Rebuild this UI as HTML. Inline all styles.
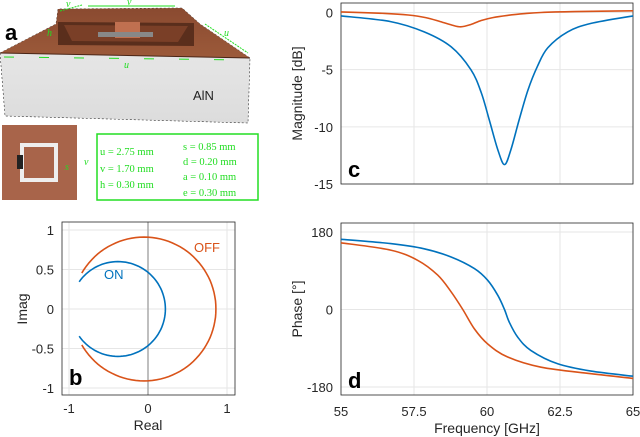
<!DOCTYPE html>
<html><head><meta charset="utf-8"><style>
body{margin:0;background:#fff;width:640px;height:437px;overflow:hidden}
svg{display:block;font-family:"Liberation Sans",sans-serif}
</style></head><body>
<svg id="fig" width="640" height="437" viewBox="0 0 640 437">
 <defs>
  <linearGradient id="brown" x1="0" y1="0" x2="0" y2="1"><stop offset="0" stop-color="#8a4a30"/><stop offset="1" stop-color="#9c5a3a"/></linearGradient>
  <linearGradient id="white" x1="0" y1="0" x2="0" y2="1"><stop offset="0" stop-color="#ececec"/><stop offset="1" stop-color="#dcdcdc"/></linearGradient>
 </defs>
 <g>
  <polygon points="0,53 56,24 58,9 182,8 200,24 250,58 248,123 5,116" fill="url(#white)" stroke="#333" stroke-width="0.6" stroke-dasharray="2,2"/>
  <polygon points="0,53 56,24 58,9 182,8 200,24 250,58" fill="url(#brown)"/>
  <polygon points="58,22 194,23 194,46 58,45" fill="#5a2e1c"/>
  <polygon points="64,25 188,26 178,42 72,41" fill="#7a3f27"/>
  <rect x="115" y="22" width="25" height="16" fill="#c07050"/>
  <rect x="98" y="32" width="55" height="5" fill="#888"/>
  <line x1="0" y1="53" x2="250" y2="58" stroke="#4a2515" stroke-width="1"/>
  <text x="193" y="100" font-size="13" fill="#222">AlN</text>
  <text x="5" y="40" font-size="22" font-weight="bold" fill="#000">a</text>
  <g fill="#22dd22" font-family="Liberation Serif" font-style="italic" font-size="10">
   <line x1="60" y1="11" x2="82" y2="5" stroke="#22dd22" stroke-dasharray="2,1"/><text x="66" y="7">v</text>
   <line x1="88" y1="6" x2="175" y2="6" stroke="#22dd22"/><text x="127" y="5">v</text>
   <line x1="205" y1="24" x2="248" y2="53" stroke="#22dd22" stroke-dasharray="2,1"/><text x="224" y="36">u</text>
   <text x="47" y="36">h</text>
   <line x1="4" y1="57" x2="245" y2="60" stroke="#22dd22" stroke-dasharray="10,25"/><text x="124" y="68">u</text>
  </g>
  <rect x="2" y="125" width="75" height="75" fill="#a8644a"/>
  <rect x="22" y="145" width="34" height="35" fill="none" stroke="#eee" stroke-width="4"/>
  <rect x="17" y="155" width="6" height="14" fill="#222"/>
  <g fill="#22dd22" font-family="Liberation Serif" font-style="italic" font-size="10">
   <text x="84" y="165">v</text><text x="65" y="170">s</text>
  </g>
  <rect x="97" y="134" width="161" height="66" fill="#fff" stroke="#22dd22" stroke-width="1.5"/>
  <g fill="#22dd22" font-family="Liberation Serif" font-size="10.5">
   <text x="100" y="155">u = 2.75 mm</text><text x="100" y="172">v = 1.70 mm</text><text x="100" y="188">h = 0.30 mm</text>
   <text x="183" y="150">s = 0.85 mm</text><text x="183" y="165">d = 0.20 mm</text><text x="183" y="180">a = 0.10 mm</text><text x="183" y="196">e = 0.30 mm</text>
  </g>
 </g>
 <g id="pb"></g><g id="pc"></g><g id="pd"></g>
</svg>
<script>
const polarSeries = ['ON','OFF'];
const polarCenterRe = [-0.38, -0.05];
const polarCenterIm = [0, 0];
const polarRadius = [0.6, 0.91];
const polarStartDeg = [145, 150];
const polarEndDeg = [-145, -150];
const polarTicks = [-1, -0.5, 0, 0.5, 1];
const polarTickLabels = ['-1','-0.5','0','0.5','1'];
const realTicks = [-1, 0, 1];
const freqMagOn = [55,56.7,57.85,58.77,59.45,59.8,60.08,60.37,60.6,60.82,61.1,61.4,61.73,62.08,62.76,63.56,65];
const magOn = [-0.3,-0.8,-1.7,-3.0,-5.0,-7.0,-9.4,-12,-13.3,-12,-9.4,-6.8,-4.7,-3.1,-1.7,-0.95,-0.3];
const freqMagOff = [55,56.5,57.3,57.9,58.4,58.8,59.1,59.45,59.8,60.2,60.7,61.3,61.85,63,65];
const magOff = [0.05,-0.08,-0.22,-0.45,-0.8,-1.1,-1.25,-1.05,-0.7,-0.45,-0.25,-0.1,0,0.08,0.15];
const freqPhOn = [55,56.7,57.85,58.77,59.57,60.02,60.37,60.6,60.76,61.05,61.5,62.42,63.56,65];
const phaseOn = [163,153,141,122,95,68,33,0,-29,-64,-95,-126,-143,-155];
const freqPhOff = [55,56.7,57.63,58.31,58.77,59.17,59.57,60.02,60.7,61.85,63.56,65];
const phaseOff = [155,138,114,80,41,0,-45,-80,-110,-134,-149,-160];
const freqTicks = [55,57.5,60,62.5,65];
const freqTickLabels = ['55','57.5','60','62.5','65'];
const magTicks = [0,-5,-10,-15];
const phaseTicks = [180,0,-180];
const colors = {ON:'#0072BD', OFF:'#D95319'};
const NS='http://www.w3.org/2000/svg';
function mk(parent,tag,attrs,txt){const e=document.createElementNS(NS,tag);for(const k in attrs)e.setAttribute(k,attrs[k]);if(txt!==undefined)e.textContent=txt;parent.appendChild(e);return e;}
function lin(d0,d1,r0,r1){return v=>r0+(v-d0)*(r1-r0)/(d1-d0);}
function smooth(pts){let d='M'+pts[0][0]+','+pts[0][1];for(let i=0;i<pts.length-1;i++){const p0=pts[Math.max(i-1,0)],p1=pts[i],p2=pts[i+1],p3=pts[Math.min(i+2,pts.length-1)];const c1=[p1[0]+(p2[0]-p0[0])/6,p1[1]+(p2[1]-p0[1])/6],c2=[p2[0]-(p3[0]-p1[0])/6,p2[1]-(p3[1]-p1[1])/6];d+=' C'+c1[0]+','+c1[1]+' '+c2[0]+','+c2[1]+' '+p2[0]+','+p2[1];}return d;}
function axesBox(g,x0,y0,x1,y1){
 const r=mk(g,'rect',{x:x0,y:y0,width:x1-x0,height:y1-y0,fill:'none',stroke:'#262626','stroke-width':0.8});
 
 
}
(function(){
 const g=document.getElementById('pb');
 
 const X=lin(-1,1,69,227),Y=lin(-1,1,388,230);
 polarTicks.forEach((t,i)=>{
  mk(g,'line',{x1:62,x2:235,y1:Y(t),y2:Y(t),stroke:'#e6e6e6'});
  const l=mk(g,'text',{x:54,y:Y(t)+5,'font-size':13,'text-anchor':'end',fill:'#262626'},polarTickLabels[i]);
  
  
 });
 realTicks.forEach(t=>{
  mk(g,'line',{x1:X(t),x2:X(t),y1:222,y2:395,stroke:'#e6e6e6'});
  const l=mk(g,'text',{x:X(t),y:413,'font-size':13,'text-anchor':'middle',fill:'#262626'},String(t));
  
  
 });
 mk(g,'line',{x1:X(0),x2:X(0),y1:222,y2:395,stroke:'#aaa','stroke-width':1.5});
 axesBox(g,62,222,235,395);
 polarSeries.forEach((s,i)=>{
  const pts=[];const a0=polarStartDeg[i],a1=polarEndDeg[i];
  for(let k=0;k<=90;k++){const a=(a0+(a1-a0)*k/90)*Math.PI/180;pts.push([X(polarCenterRe[i]+polarRadius[i]*Math.cos(a)).toFixed(1),Y(polarCenterIm[i]+polarRadius[i]*Math.sin(a)).toFixed(1)]);}
  const p=mk(g,'polyline',{points:pts.map(q=>q.join(',')).join(' '),fill:'none',stroke:colors[s],'stroke-width':1.6});
  
  
 });
 const on=mk(g,'text',{x:104,y:279,'font-size':13,fill:colors.ON},'ON');
 
 const off=mk(g,'text',{x:194,y:252,'font-size':13,fill:colors.OFF},'OFF');
 
 const xl=mk(g,'text',{x:148,y:430,'font-size':14,'text-anchor':'middle',fill:'#262626'},'Real');
 
 const yl=mk(g,'text',{x:0,y:0,'font-size':14,'text-anchor':'middle',fill:'#262626',transform:'translate(27,309) rotate(-90)'},'Imag');
 
 const b=mk(g,'text',{x:69,y:385,'font-size':22,'font-weight':'bold'},'b');
 
})();
function linePanel(id,name,y0,y1,dTop,dBot,ticks,tickLabels,series,ytitle,letter,showX){
 const g=document.getElementById(id);
 
 const X=lin(55,65,341,633),Y=lin(ticks[0],ticks[ticks.length-1],dTop,dBot);
 ticks.forEach((t,i)=>{
  mk(g,'line',{x1:341,x2:633,y1:Y(t),y2:Y(t),stroke:'#e6e6e6'});
  const l=mk(g,'text',{x:333,y:Y(t)+5,'font-size':13,'text-anchor':'end',fill:'#262626'},tickLabels[i]);
  
  
 });
 freqTicks.forEach((t,i)=>{
  mk(g,'line',{x1:X(t),x2:X(t),y1:y0,y2:y1,stroke:'#e6e6e6'});
  if(showX){
   const l=mk(g,'text',{x:X(t),y:416,'font-size':13,'text-anchor':'middle',fill:'#262626'},freqTickLabels[i]);
   
   
  }
 });
 axesBox(g,341,y0,633,y1);
 series.forEach(s=>{
  const pts=s.v.map((v,i)=>[+X(s.x[i]).toFixed(1),+Y(v).toFixed(1)]);
  const p=mk(g,'path',{d:smooth(pts),fill:'none',stroke:colors[s.n],'stroke-width':1.6});
  
  
 });
 const yl=mk(g,'text',{x:0,y:0,'font-size':14,'text-anchor':'middle',fill:'#262626',transform:'translate(302,'+((y0+y1)/2)+') rotate(-90)'},ytitle);
 
 const L=mk(g,'text',{x:348,y:y1-7,'font-size':22,'font-weight':'bold'},letter);
 
}
linePanel('pc','magnitude-chart',3,184,12.5,184,magTicks,['0','-5','-10','-15'],[{n:'OFF',x:freqMagOff,v:magOff},{n:'ON',x:freqMagOn,v:magOn}],'Magnitude [dB]','c',false);
linePanel('pd','phase-chart',223,395,232,387,phaseTicks,['180','0','-180'],[{n:'OFF',x:freqPhOff,v:phaseOff},{n:'ON',x:freqPhOn,v:phaseOn}],'Phase [°]','d',true);
const ft=mk(document.getElementById('pd'),'text',{x:487,y:433,'font-size':14,'text-anchor':'middle',fill:'#262626'},'Frequency [GHz]');


</script>
</body></html>
